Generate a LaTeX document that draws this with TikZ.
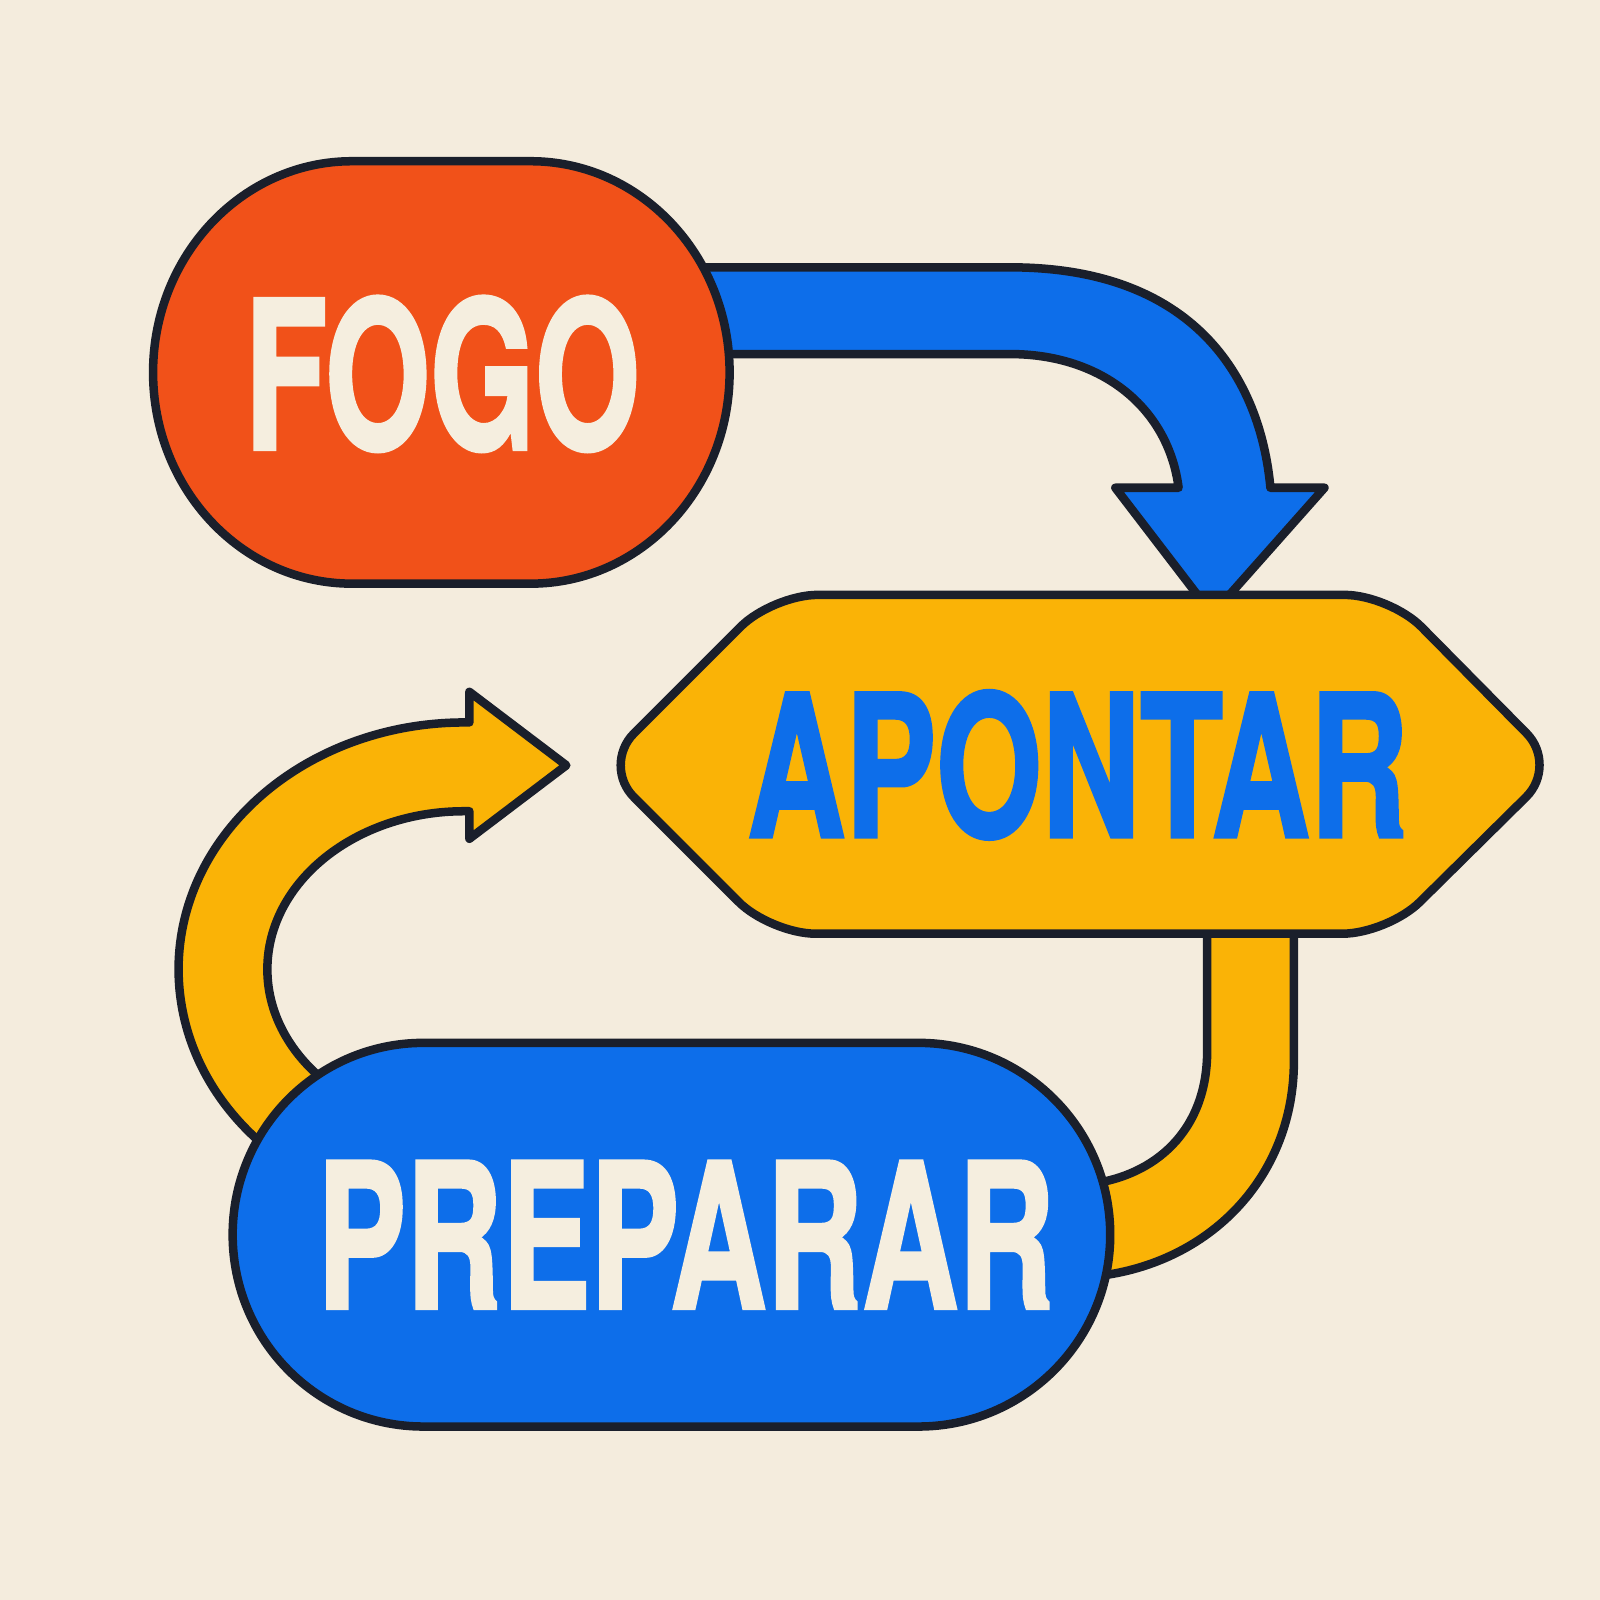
\documentclass[tikz,border=0pt]{standalone}
\usepackage{fontspec}
\setmainfont{TeX Gyre Heros}
\newfontfamily\heavy{TeX Gyre Heros}[BoldFeatures={FakeBold=2}]
\definecolor{bgc}{HTML}{F4ECDD}
\definecolor{fogoc}{HTML}{F15119}
\definecolor{bluec}{HTML}{0D6EEA}
\definecolor{yelc}{HTML}{FAB306}
\definecolor{inkc}{HTML}{1A1F2B}
\definecolor{creamc}{HTML}{F5EEDF}
\tikzset{
  outl/.style={draw=inkc, line width=0.085cm, line join=round},
  lbl/.style={inner sep=0pt, anchor=base},
}
\begin{document}
\begin{tikzpicture}[x=0.0102cm, y=-0.0102cm]
\fill[bgc] (0,0) rectangle (1568,1568);
\useasboundingbox (0,0) rectangle (1568,1568);

% named anchor coordinates
\coordinate (bstart) at (650,262);
\coordinate (btip) at (1188,602);
\coordinate (ystart) at (1183,880);
\coordinate (ltip) at (555,750);

% blue arrow FOGO -> APONTAR (beneath shapes)
\draw[outl, fill=bluec] (bstart) -- (990,262)
  .. controls (1170,262) and (1235,370) .. (1245,478)
  -- (1298,478) -- (btip) -- (1093,478) -- (1155,478)
  .. controls (1145,400) and (1080,347) .. (990,347)
  -- (650,347) -- cycle;

% yellow connector APONTAR -> PREPARAR
\draw[outl, fill=yelc] (ystart) -- (1183,1030)
  .. controls (1183,1110) and (1130,1152) .. (1070,1160)
  -- (1040,1160) -- (1040,1252) -- (1080,1250)
  .. controls (1190,1235) and (1268,1150) .. (1268,1040)
  -- (1268,880) -- cycle;

% yellow arrow PREPARAR -> APONTAR
\draw[outl, fill=yelc]
  (455,950) ++(130:280 and 242)
  arc[start angle=130, end angle=270, x radius=280, y radius=242]
  -- (460,708) -- (460,678) -- (ltip) -- (460,822) -- (460,795) -- (455,795)
  arc[start angle=270, end angle=130, x radius=193, y radius=155]
  -- cycle;

% FOGO shape
\draw[outl, fill=fogoc] (345,158) -- (520,158)
  arc[start angle=-90, end angle=90, x radius=195, y radius=207]
  -- (345,572)
  arc[start angle=90, end angle=270, x radius=195, y radius=207]
  -- cycle;

% APONTAR shape
\draw[outl, fill=yelc, rounded corners=0.45cm]
  (1000,583) -- (1362,583) -- (1527,750) -- (1360,915) -- (755,915)
  -- (590,750) -- (757,583) -- cycle;

% PREPARAR shape
\draw[outl, fill=bluec] (415,1022) -- (900,1022)
  arc[start angle=-90, end angle=90, x radius=188, y radius=188]
  -- (415,1398)
  arc[start angle=90, end angle=270, x radius=187, y radius=188]
  -- cycle;

% labels
\node[lbl, text=creamc] (fogo) at (433.5,440)
  {\scalebox{0.655}[1]{\heavy\bfseries\fontsize{58.5}{60}\selectfont FOGO}};
\node[lbl, text=bluec] (apontar) at (1056,820)
  {\scalebox{0.69}[1]{\heavy\bfseries\fontsize{56}{58}\selectfont APONTAR}};
\node[lbl, text=creamc] (preparar) at (672,1282)
  {\scalebox{0.66}[1]{\heavy\bfseries\fontsize{57.2}{59}\selectfont PREPARAR}};
\end{tikzpicture}
\end{document}
